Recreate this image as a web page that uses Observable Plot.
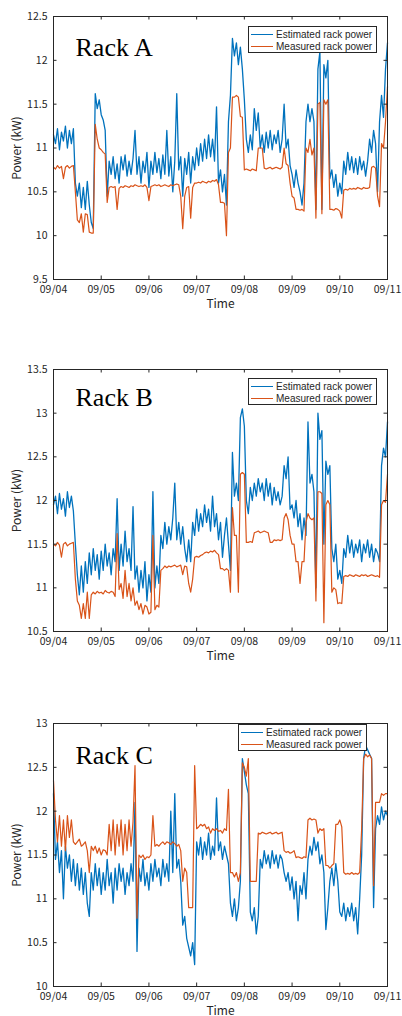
<!DOCTYPE html>
<html><head><meta charset="utf-8">
<script src="https://cdn.jsdelivr.net/npm/d3@7"></script>
<script src="https://cdn.jsdelivr.net/npm/@observablehq/plot@0.6"></script>
<style>
body{margin:0;background:#fff;}
#root{position:relative;width:402px;height:1016px;overflow:hidden;background:#fff;}
.panel{position:absolute;left:0;}
.legend{position:absolute;width:129px;height:27px;border:1px solid #262626;background:#fff;box-sizing:border-box;font:10px "Liberation Sans",Arial,sans-serif;color:#262626;}
.legend .row{position:absolute;left:2px;height:12px;display:flex;align-items:center;white-space:nowrap;}
.legend .sw{display:inline-block;width:22px;height:0;border-top:1.3px solid;margin-right:3px;}
</style></head><body><div id="root"></div><script>
// ---- data (hourly readings, 09/04 00:00 .. 09/11 00:00) ----
const dayLabels = ["09/04","09/05","09/06","09/07","09/08","09/09","09/10","09/11"];
const seriesNames = ["Estimated rack power","Measured rack power"];
const rackTitles = ["Rack A","Rack B","Rack C"];
const yTicksA = [9.5,10,10.5,11,11.5,12,12.5];
const yTicksB = [10.5,11,11.5,12,12.5,13,13.5];
const yTicksC = [10,10.5,11,11.5,12,12.5,13];

const estA = [
11.15,11.05,11.22,10.98,11.18,11.08,11.25,11.0,11.2,11.05,11.22,10.6,
10.45,10.6,10.32,10.55,10.3,10.62,10.35,10.15,10.08,11.62,11.45,11.55,
11.38,11.32,11.2,10.45,10.85,10.7,10.9,10.65,10.82,10.6,10.9,10.75,
10.92,10.68,10.85,10.7,10.88,11.2,10.7,10.9,10.6,10.85,10.72,10.95,
10.55,10.85,10.7,10.95,10.72,10.88,10.65,10.92,10.7,11.2,10.68,10.9,
10.5,10.85,11.62,10.75,10.9,10.45,10.88,10.7,10.95,10.6,10.9,10.75,
11.0,10.8,11.05,10.85,11.1,10.88,11.15,10.9,11.1,10.85,11.47,10.6,
10.75,10.5,10.7,10.35,11.3,11.6,12.25,12.05,12.2,11.95,12.15,11.9,
11.55,11.1,10.95,11.15,10.98,11.45,11.2,11.4,11.0,11.15,10.95,11.18,
11.0,11.2,10.98,11.15,11.05,11.2,10.95,11.1,11.5,11.0,11.1,10.8,
10.7,10.55,10.75,10.6,10.5,10.35,10.6,11.3,11.5,11.3,11.45,11.3,
10.3,11.9,12.1,10.3,11.95,11.8,12.0,10.65,10.75,10.55,10.7,10.45,
10.6,10.48,10.85,10.7,10.95,10.75,10.9,10.72,10.88,10.7,10.9,10.75,
10.85,10.68,10.85,11.1,10.95,11.2,11.05,10.5,11.3,11.6,11.35,11.9,
12.2];
const measA = [
10.78,10.76,10.8,10.77,10.79,10.65,10.78,10.8,10.77,10.79,10.8,10.5,
10.18,10.15,10.25,10.04,10.25,10.24,10.04,10.03,10.03,11.27,11.1,11.0,
10.98,10.95,10.93,10.38,10.55,10.56,10.55,10.56,10.3,10.54,10.56,10.55,
10.57,10.56,10.55,10.57,10.56,10.58,10.57,10.56,10.57,10.56,10.58,10.55,
10.4,10.56,10.57,10.58,10.57,10.58,10.56,10.57,10.58,10.57,10.56,10.58,
10.57,10.58,10.59,10.58,10.45,10.08,10.45,10.55,10.56,10.2,10.55,10.6,
10.6,10.61,10.6,10.62,10.61,10.6,10.62,10.61,10.63,10.62,10.64,10.58,
10.38,10.38,10.37,10.0,10.95,11.0,11.58,11.58,11.6,11.58,11.36,11.35,
10.75,10.76,10.75,10.74,10.76,10.75,10.74,11.0,11.0,11.0,10.77,10.76,
10.77,10.78,10.76,10.77,10.78,10.77,10.76,10.78,11.0,10.82,10.8,10.6,
10.45,10.43,10.3,10.3,10.29,10.3,10.28,11.0,10.95,11.1,10.92,11.0,
10.2,11.5,11.52,10.25,11.55,11.5,11.55,10.3,10.3,10.29,10.31,10.3,
10.28,10.2,10.52,10.53,10.52,10.54,10.53,10.54,10.53,10.55,10.54,10.53,
10.55,10.54,10.54,10.55,10.78,10.79,10.77,10.45,10.33,11.05,11.0,11.3,
11.7];

const estB = [
11.95,12.05,11.85,12.08,11.9,12.02,11.82,12.1,11.92,12.05,11.88,11.5,
11.15,10.92,11.25,10.95,11.3,11.05,11.4,11.15,11.45,11.2,11.38,11.1,
11.42,11.2,11.5,11.25,11.4,11.15,11.45,11.3,12.02,11.2,11.5,11.25,
11.65,11.3,11.45,11.2,11.93,11.1,11.25,10.95,11.2,11.0,11.3,10.85,
11.15,10.95,12.1,11.0,11.25,11.05,11.6,11.45,11.75,11.5,11.7,11.55,
11.8,12.2,11.55,11.75,11.5,11.7,11.45,11.3,11.55,11.3,11.75,11.6,
11.9,11.65,11.85,11.7,11.95,11.75,11.9,11.65,12.05,11.7,11.85,11.55,
11.75,11.35,11.6,11.8,11.5,11.2,12.55,12.05,12.2,12.0,12.95,13.05,
12.85,12.0,11.85,12.15,12.0,12.2,12.05,12.25,12.1,12.2,12.0,12.25,
12.05,12.2,11.95,12.15,12.0,12.1,11.95,12.05,12.4,12.25,12.5,11.9,
11.95,11.8,12.0,11.7,11.85,11.55,11.8,11.6,12.9,12.2,12.3,12.1,
11.0,13.0,12.7,12.8,11.5,12.45,12.3,12.4,11.45,11.3,11.5,11.1,
11.2,11.05,11.45,11.35,11.6,11.4,11.55,11.35,11.5,11.4,11.55,11.3,
11.5,11.4,11.55,11.35,11.5,11.3,11.45,11.4,11.3,12.4,12.6,12.5,
12.9];
const measB = [
11.5,11.48,11.52,11.49,11.35,11.5,11.52,11.48,11.5,11.51,11.52,11.1,
10.85,10.8,10.65,10.82,10.65,10.95,10.65,10.92,10.95,10.93,10.96,10.94,
10.95,10.93,10.97,10.95,10.94,10.96,10.95,10.9,11.62,10.98,11.05,10.88,
11.2,10.9,11.05,10.85,11.0,10.8,10.85,10.75,10.82,10.7,10.8,10.78,
10.7,10.72,11.6,10.75,10.8,10.78,11.2,11.22,11.25,11.23,11.25,11.24,
11.25,11.26,11.24,11.25,11.26,11.15,11.25,11.24,11.05,10.95,11.1,11.35,
11.36,11.35,11.37,11.38,11.4,11.41,11.4,11.42,11.41,11.43,11.4,11.38,
11.22,11.22,11.2,11.22,11.2,10.95,11.92,11.6,11.6,10.95,12.3,12.32,
12.3,11.52,11.52,11.53,11.52,11.63,11.64,11.65,11.63,11.64,11.65,11.64,
11.63,11.52,11.52,11.55,11.54,11.55,11.54,11.55,11.8,11.85,11.78,11.6,
11.5,11.5,11.3,11.3,11.05,11.3,11.3,11.75,11.85,11.8,11.78,11.8,
10.85,12.1,12.1,12.08,10.6,11.95,12.0,11.95,10.95,11.0,10.98,10.82,
10.83,10.82,11.13,11.14,11.13,11.15,11.14,11.13,11.15,11.14,11.13,11.15,
11.14,11.15,11.13,11.14,11.15,11.14,11.13,11.14,11.12,11.95,12.0,11.98,
12.3];

const estC = [
12.2,11.45,11.65,11.3,11.55,11.0,11.6,11.35,11.5,11.2,11.45,11.15,
11.4,11.1,11.35,11.05,11.3,10.95,10.8,11.3,11.1,11.4,11.15,11.35,
11.05,11.3,11.1,11.45,11.15,11.3,10.95,11.35,11.1,11.4,11.2,11.35,
11.05,11.3,11.15,11.4,11.2,12.1,10.4,11.35,11.2,11.45,11.15,11.3,
11.1,11.4,11.2,11.45,11.25,11.35,11.15,11.45,11.25,11.4,11.2,12.0,
11.3,12.2,11.35,11.45,11.2,10.7,10.8,10.55,10.45,10.35,10.5,10.25,
11.65,11.5,11.7,11.45,11.65,11.5,11.75,11.45,11.6,11.5,12.15,11.55,
11.65,11.45,11.6,11.5,11.4,10.95,10.8,11.0,10.75,10.9,11.2,12.6,
12.45,12.3,12.2,10.85,10.75,10.9,10.6,10.8,11.45,11.35,11.55,11.4,
11.5,11.35,11.55,11.4,11.5,11.35,11.5,11.45,11.3,11.2,11.3,11.1,
11.25,11.0,11.2,10.75,11.15,11.05,11.3,11.0,11.45,11.6,11.5,11.7,
11.55,11.65,11.4,11.5,11.3,10.65,10.9,11.2,11.35,11.15,11.4,11.2,
10.85,10.8,10.95,10.75,10.9,10.8,10.95,10.75,10.9,10.6,11.0,11.5,
12.6,12.75,12.7,12.65,12.6,10.9,11.8,11.95,11.85,12.05,11.9,12.0,
11.95];
const measC = [
12.35,11.9,11.65,11.95,11.6,11.9,11.55,11.95,11.7,11.9,11.65,11.62,
11.65,11.68,11.6,11.62,11.65,11.55,11.3,11.6,11.55,11.6,11.52,11.58,
11.5,11.56,11.55,11.5,11.85,11.55,11.9,11.5,11.85,11.6,11.9,11.5,
11.85,11.55,11.9,11.6,11.88,12.52,10.78,11.5,11.47,11.5,11.45,11.48,
11.47,11.5,11.95,11.6,11.62,11.6,11.63,11.65,11.62,11.65,11.64,11.62,
11.65,11.63,11.6,11.62,11.55,11.2,11.35,11.3,10.9,10.9,10.9,12.52,
11.8,11.82,11.85,11.83,11.85,11.8,11.82,11.75,11.8,11.78,11.8,11.77,
11.78,11.75,11.8,11.78,12.25,11.3,11.3,11.25,11.3,11.2,11.3,12.55,
12.5,12.4,12.6,11.2,11.2,11.2,11.2,11.75,11.74,11.76,11.75,11.74,
11.75,11.76,11.74,11.75,11.76,11.74,11.75,11.76,11.55,11.53,11.54,11.52,
11.53,11.55,11.47,11.48,11.47,11.46,11.48,11.47,11.9,11.92,11.9,11.91,
11.9,11.75,11.8,11.78,11.8,11.38,11.38,11.35,11.38,11.4,11.85,11.85,
11.9,11.82,11.3,11.28,11.29,11.28,11.3,11.28,11.29,11.28,11.3,11.8,
12.6,12.65,12.62,12.64,12.6,11.15,12.1,12.1,12.1,12.2,12.18,12.2,
12.2];

// ---- rendering ----
const YEAR = 2019;
const dayDates = dayLabels.map(s => { const [m, d] = s.split("/"); return new Date(Date.UTC(YEAR, +m - 1, +d)); });
const t0 = +dayDates[0];
const toRows = arr => arr.map((v, i) => ({t: new Date(t0 + i * 3600e3), v}));
const BLUE = "#0072BD", ORANGE = "#D95319", AX = "#262626";
const W = 402, ML = 53, MR = 15;

const panels = [
  {est: estA, meas: measA, title: rackTitles[0], yTicks: yTicksA, top: 0, height: 350, mt: 16, mb: 71, tdy: 39, leg: [248, 26]},
  {est: estB, meas: measB, title: rackTitles[1], yTicks: yTicksB, top: 350, height: 350, mt: 19, mb: 69, tdy: 36, leg: [248, 378]},
  {est: estC, meas: measC, title: rackTitles[2], yTicks: yTicksC, top: 700, height: 316, mt: 23, mb: 30, tdy: 40, leg: [238, 724]}
];
const root = document.getElementById("root");
for (const p of panels) {
  const pw = W - ML - MR, ph = p.height - p.mt - p.mb;
  const yDom = [p.yTicks[0], p.yTicks[p.yTicks.length - 1]];
  const chart = Plot.plot({
    width: W, height: p.height,
    marginLeft: ML, marginRight: MR, marginTop: p.mt, marginBottom: p.mb,
    style: {fontFamily: "'Noto Sans CJK JP','Liberation Sans',sans-serif", fontSize: "10.5px", color: AX, background: "white", overflow: "visible"},
    x: {type: "utc", domain: [dayDates[0], dayDates[dayDates.length - 1]]},
    y: {domain: yDom},
    marks: [
      Plot.lineY(toRows(p.est), {x: "t", y: "v", stroke: BLUE, strokeWidth: 1.3}),
      Plot.lineY(toRows(p.meas), {x: "t", y: "v", stroke: ORANGE, strokeWidth: 1.2}),
      Plot.frame({stroke: AX, strokeWidth: 1}),
      Plot.tickY(p.yTicks, {y: d => d, insetRight: pw - 3.5, stroke: AX}),
      Plot.tickY(p.yTicks, {y: d => d, insetLeft: pw - 3.5, stroke: AX}),
      Plot.tickX(dayDates, {x: d => d, insetTop: ph - 3.5, stroke: AX}),
      Plot.tickX(dayDates, {x: d => d, insetBottom: ph - 3.5, stroke: AX}),
      Plot.axisY(p.yTicks, {tickSize: 0, tickPadding: 6, label: null, tickFormat: d => String(d)}),
      Plot.axisX(dayDates, {tickSize: 0, tickPadding: 6, label: null, tickFormat: d3.utcFormat("%m/%d"), style: {letterSpacing: "0.4px"}}),
      Plot.text(["Time"], {frameAnchor: "bottom", dy: 25, lineAnchor: "middle", fontSize: 12, fill: AX}),
      Plot.text(["Power (kW)"], {frameAnchor: "left", dx: -36, rotate: -90, lineAnchor: "middle", textAnchor: "middle", fontSize: 12, fill: AX}),
      Plot.text([p.title], {frameAnchor: "top-left", dx: 22, dy: p.tdy, lineAnchor: "bottom", textAnchor: "start", fontFamily: "'Liberation Serif','Times New Roman',serif", fontSize: 26, fill: "black"})
    ]
  });
  const wrap = document.createElement("div");
  wrap.className = "panel";
  wrap.style.top = p.top + "px";
  wrap.appendChild(chart);
  root.appendChild(wrap);

  const leg = document.createElement("div");
  leg.className = "legend";
  leg.style.left = p.leg[0] + "px";
  leg.style.top = p.leg[1] + "px";
  [[seriesNames[0], BLUE, 1.5], [seriesNames[1], ORANGE, 13]].forEach(([name, col, y]) => {
    const row = document.createElement("div");
    row.className = "row";
    row.style.top = y + "px";
    const sw = document.createElement("span");
    sw.className = "sw";
    sw.style.borderColor = col;
    row.appendChild(sw);
    row.appendChild(document.createTextNode(name));
    leg.appendChild(row);
  });
  root.appendChild(leg);
}
</script></body></html>
